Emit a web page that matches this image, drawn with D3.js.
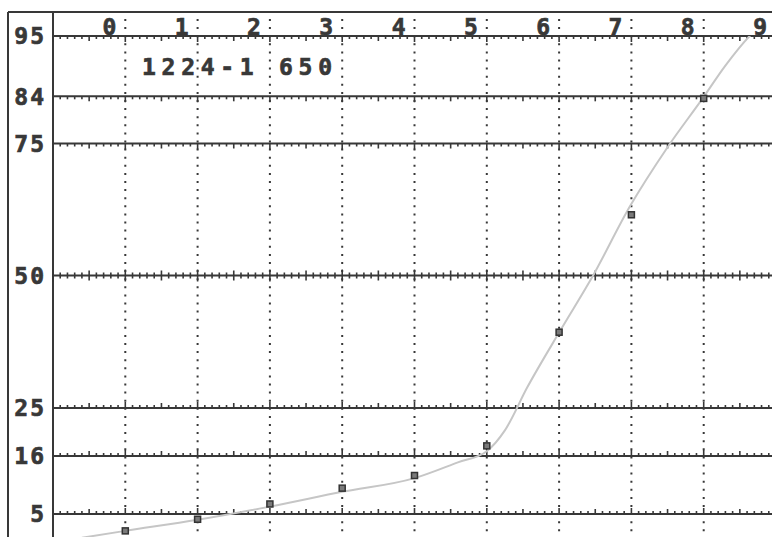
<!DOCTYPE html>
<html>
<head>
<meta charset="utf-8">
<script src="https://cdn.jsdelivr.net/npm/d3@7"></script>
<style>
  html, body { margin: 0; padding: 0; background: #fff; }
  svg { display: block; }
</style>
</head>
<body>
<svg id="chart" width="772" height="537"></svg>
<script>
// ---- data ----
const xTicks = [0, 1, 2, 3, 4, 5, 6, 7, 8, 9];
const yTicks = [95, 84, 75, 50, 25, 16, 5];
const label = "1224-1 650";
const pointX = [0, 1, 2, 3, 4, 5, 6, 7, 8];
const pointY = [1.8, 4.0, 6.9, 9.9, 12.3, 17.9, 39.3, 61.5, 83.6];
const curveX = [-0.6, 0, 1, 2, 3, 4, 4.6, 5.0, 5.25, 5.56, 6.02, 6.47, 6.98, 7.5, 7.99, 8.3, 8.65, 8.75];
const curveY = [0.5, 1.8, 3.9, 6.4, 9.2, 11.8, 14.8, 16.9, 20.8, 28.9, 39.7, 50, 63.1, 74.3, 83.7, 89.6, 95.2, 96.5];

// ---- layout ----
const W = 772, H = 537;
const frameL = 8, frameT = 12, sepX = 53;
const ink = "#383838";
const font = "DejaVu Sans Mono, Liberation Mono, monospace";
const svg = d3.select("#chart");

const x = d3.scaleLinear().domain([-1, 9]).range([sepX, 776]);
const y = d3.scaleLinear().domain([5, 16, 25, 50, 75, 84, 95]).range([514, 456, 408, 275.5, 143.5, 96.3, 36]);

svg.append("defs").append("clipPath").attr("id", "plotclip")
  .append("rect").attr("x", sepX + 1).attr("y", y(95)).attr("width", W - sepX).attr("height", H - y(95));

// frame
svg.append("line").attr("x1", frameL).attr("x2", W).attr("y1", frameT).attr("y2", frameT)
  .attr("stroke", ink).attr("stroke-width", 2);
svg.append("line").attr("x1", frameL).attr("x2", frameL).attr("y1", frameT).attr("y2", H)
  .attr("stroke", ink).attr("stroke-width", 2);
svg.append("line").attr("x1", sepX).attr("x2", sepX).attr("y1", frameT).attr("y2", H)
  .attr("stroke", ink).attr("stroke-width", 2);

// vertical dotted grid lines
svg.append("g").selectAll("line").data(xTicks).join("line")
  .attr("x1", d => x(d)).attr("x2", d => x(d))
  .attr("y1", 19).attr("y2", H)
  .attr("stroke", ink).attr("stroke-width", 2)
  .attr("stroke-dasharray", "2,6.1");

// horizontal grid lines with tick marks
const minor = d3.range(-10, 91).map(i => i / 10);
const tickLen = d => {
  const k = Math.round(d * 10);
  return k % 10 === 0 ? 6 : (k % 5 === 0 ? 5 : 3);
};
yTicks.forEach(v => {
  const yy = y(v);
  const g = svg.append("g");
  g.append("line").attr("x1", sepX).attr("x2", W).attr("y1", yy).attr("y2", yy)
    .attr("stroke", ink).attr("stroke-width", 2);
  const dir = v > 50 ? 1 : (v < 50 ? -1 : 0);
  g.selectAll("line.t").data(minor).join("line").attr("class", "t")
    .attr("x1", d => x(d)).attr("x2", d => x(d))
    .attr("y1", d => (dir === 1 ? yy : yy - tickLen(d)))
    .attr("y2", d => (dir === -1 ? yy : yy + tickLen(d)))
    .attr("stroke", ink).attr("stroke-width", 1.6);
});

// y labels
svg.append("g").selectAll("text").data(yTicks).join("text")
  .attr("x", 46).attr("y", d => y(d))
  .attr("dy", "0.36em")
  .attr("text-anchor", "end")
  .attr("font-family", font)
  .attr("font-weight", "bold").attr("font-size", 23)
  .attr("letter-spacing", 2)
  .attr("fill", ink).attr("stroke", ink).attr("stroke-width", 0.7)
  .text(d => d);

// x labels
svg.append("g").selectAll("text").data(xTicks).join("text")
  .attr("x", d => x(d) - 9).attr("y", y(95) - 1)
  .attr("text-anchor", "end")
  .attr("font-family", font)
  .attr("font-weight", "bold").attr("font-size", 23)
  .attr("fill", ink).attr("stroke", ink).attr("stroke-width", 0.7)
  .text(d => d);

// annotation
svg.append("text")
  .attr("x", 142).attr("y", 75)
  .attr("font-family", font)
  .attr("font-weight", "bold").attr("font-size", 23)
  .attr("textLength", 190).attr("lengthAdjust", "spacing")
  .attr("fill", ink).attr("stroke", ink).attr("stroke-width", 0.7)
  .text(label);

// fitted curve
const curveData = curveX.map((d, i) => [d, curveY[i]]);
svg.append("path")
  .datum(curveData)
  .attr("clip-path", "url(#plotclip)")
  .attr("fill", "none")
  .attr("stroke", "#c6c6c6")
  .attr("stroke-width", 2)
  .attr("d", d3.line().x(d => x(d[0])).y(d => y(d[1])).curve(d3.curveMonotoneX));

// data points
svg.append("g").selectAll("rect").data(pointX.map((d, i) => [d, pointY[i]])).join("rect")
  .attr("x", d => x(d[0]) - 3).attr("y", d => y(d[1]) - 3)
  .attr("width", 6).attr("height", 6)
  .attr("fill", "#7a7a7a").attr("stroke", "#333").attr("stroke-width", 1.5);
</script>
</body>
</html>
